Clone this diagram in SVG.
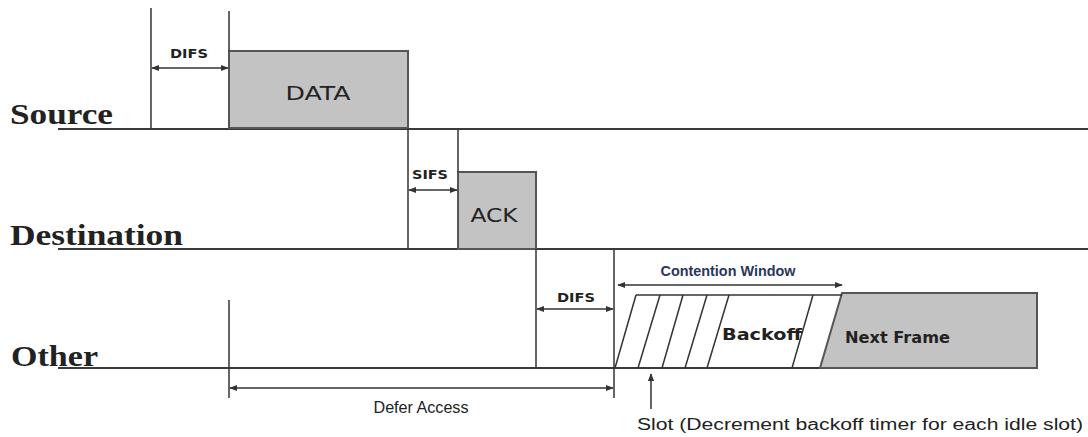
<svg xmlns="http://www.w3.org/2000/svg" width="1088" height="437" viewBox="0 0 1088 437">
<style>
.bg{fill:#ffffff}
.ln{stroke:#333;stroke-width:1.5;fill:none}
.base{stroke:#3a3a3a;stroke-width:2;fill:none}
.box{fill:#c3c3c3;stroke:#555;stroke-width:2}
.lab{font-family:"Liberation Serif",serif;font-weight:bold;font-size:30px;fill:#222}
.frm{font-family:"DejaVu Sans",sans-serif;font-size:20px;fill:#222}
.sm{font-family:"DejaVu Sans",sans-serif;font-size:12px;font-weight:bold;fill:#222}
.bk{font-family:"DejaVu Sans",sans-serif;font-size:15px;font-weight:bold;fill:#222}
.cw{font-family:"Liberation Sans",sans-serif;font-size:14px;font-weight:bold;fill:#2a3560}
.note{font-family:"Liberation Sans",sans-serif;font-size:16px;fill:#222}
.arr{stroke:#333;stroke-width:1.5;fill:none;marker-start:url(#ah);marker-end:url(#ah)}
</style>
<defs>
<marker id="ah" viewBox="0 0 10 10" refX="9" refY="5" markerWidth="8" markerHeight="8" markerUnits="userSpaceOnUse" orient="auto-start-reverse">
<path d="M0,1 L10,5 L0,9 Z" fill="#333"/>
</marker>
</defs>
<rect class="bg" x="0" y="0" width="1088" height="437"/>

<g id="labels">
<text class="lab" x="10" y="124" textLength="103" lengthAdjust="spacingAndGlyphs">Source</text>
<text class="lab" x="10" y="245" textLength="173" lengthAdjust="spacingAndGlyphs">Destination</text>
<text class="lab" x="11" y="366" textLength="87" lengthAdjust="spacingAndGlyphs">Other</text>
</g>

<g id="timelines">
<line class="base" x1="58" y1="129" x2="1088" y2="129"/>
<line class="base" x1="58" y1="249" x2="1088" y2="249"/>
<line class="base" x1="58" y1="368" x2="1037" y2="368"/>
</g>

<g id="data">
<rect class="box" x="229" y="51" width="179" height="77"/>
<text class="frm" x="318" y="100" text-anchor="middle" textLength="65" lengthAdjust="spacingAndGlyphs">DATA</text>
</g>

<g id="ack">
<rect class="box" x="458" y="172" width="78" height="77"/>
<text class="frm" x="494" y="222" text-anchor="middle" textLength="47" lengthAdjust="spacingAndGlyphs">ACK</text>
</g>

<g id="next-frame">
<polygon class="box" points="842,293 1037,293 1037,368 820,368"/>
<text class="bk" x="845" y="343" textLength="105" lengthAdjust="spacingAndGlyphs">Next Frame</text>
</g>

<g id="backoff">
<line class="ln" x1="636" y1="295" x2="842" y2="295"/>
<line class="ln" x1="636" y1="295" x2="615" y2="368"/>
<line class="ln" x1="660" y1="295" x2="638" y2="368"/>
<line class="ln" x1="683" y1="295" x2="662" y2="368"/>
<line class="ln" x1="707" y1="295" x2="685" y2="368"/>
<line class="ln" x1="729" y1="295" x2="707" y2="368"/>
<line class="ln" x1="813" y1="295" x2="792" y2="368"/>
<text class="bk" x="722" y="340" textLength="80" lengthAdjust="spacingAndGlyphs">Backoff</text>
</g>

<g id="connectors">
<line class="ln" x1="151" y1="8" x2="151" y2="129"/>
<line class="ln" x1="229" y1="11" x2="229" y2="51"/>
<line class="ln" x1="408" y1="128" x2="408" y2="249"/>
<line class="ln" x1="458" y1="129" x2="458" y2="172"/>
<line class="ln" x1="536" y1="249" x2="536" y2="368"/>
<line class="ln" x1="614" y1="249" x2="614" y2="398"/>
<line class="ln" x1="229" y1="300" x2="229" y2="398"/>

<line class="arr" x1="152" y1="68" x2="228" y2="68"/>
<line class="arr" x1="409" y1="190" x2="457" y2="190"/>
<line class="arr" x1="537" y1="309" x2="613" y2="309"/>
<line class="arr" x1="618" y1="285" x2="842" y2="285"/>
<line class="arr" x1="230" y1="388" x2="613" y2="388"/>
<line class="ln" x1="651" y1="409" x2="651" y2="374" marker-end="url(#ah)"/>
</g>

<g id="texts">
<text class="sm" x="189" y="58" text-anchor="middle" textLength="38" lengthAdjust="spacingAndGlyphs">DIFS</text>
<text class="sm" x="430" y="179" text-anchor="middle" textLength="36" lengthAdjust="spacingAndGlyphs">SIFS</text>
<text class="sm" x="576" y="302" text-anchor="middle" textLength="38" lengthAdjust="spacingAndGlyphs">DIFS</text>
<text class="cw" x="728" y="276" text-anchor="middle" textLength="135" lengthAdjust="spacingAndGlyphs">Contention Window</text>
<text class="note" x="421" y="413" text-anchor="middle" textLength="95" lengthAdjust="spacingAndGlyphs">Defer Access</text>
<text class="note" x="637" y="430" textLength="446" lengthAdjust="spacingAndGlyphs">Slot (Decrement backoff timer for each idle slot)</text>
</g>
</svg>
